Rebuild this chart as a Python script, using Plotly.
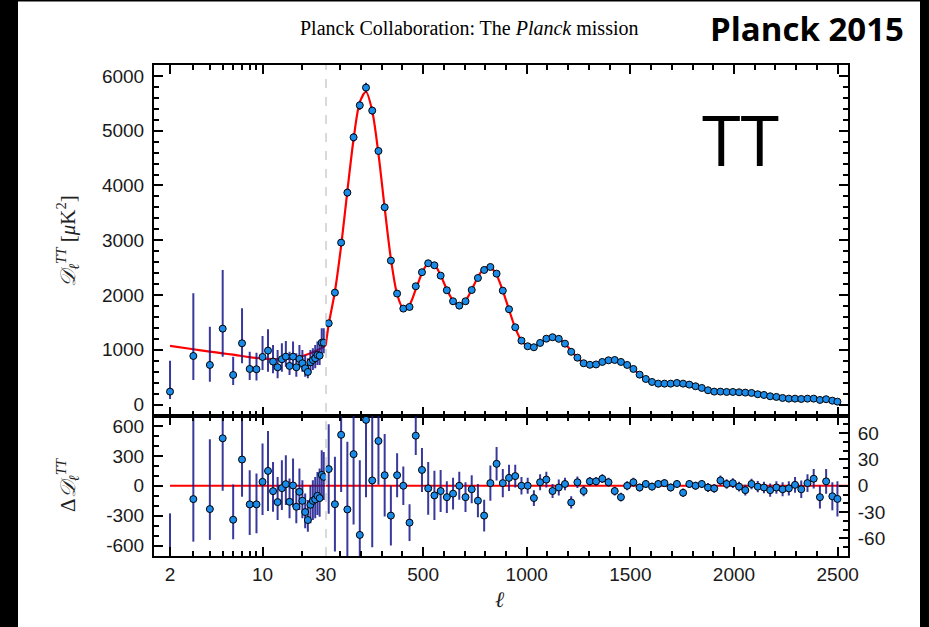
import plotly.graph_objects as go

# ---------------- data ----------------
low_ell = [2, 3, 4, 5, 6, 7, 8, 9, 10, 11, 12, 13, 14, 15, 16, 17, 18, 19, 20,
           21, 22, 23, 24, 25, 26, 27, 28, 29]
low_D = [236, 887, 723, 1386, 540, 1119, 650, 644, 869, 985, 784, 681, 827, 875,
         705, 875, 681, 833, 754, 663, 595, 772, 814, 845, 906, 893, 1130, 1130]
low_D_errp = [565, 1145, 699, 1072, 335, 639, 316, 304, 383, 390, 304, 316, 292, 286,
              261, 274, 255, 255, 243, 243, 250, 225, 214, 243, 243, 274, 263, 263]
low_D_errm = [134, 438, 305, 511, 182, 365, 201, 207, 237, 384, 213, 201, 226, 183,
              165, 183, 172, 170, 153, 154, 115, 171, 182, 182, 183, 170, 194, 194]

low_res = [-830, -134, -234, 476, -341, 263, -187, -187, 39, 149, -54, -164, -24, 16,
           -161, 3, -211, -61, -151, -264, -344, -191, -151, -137, -101, -124, 109, 89]
low_res_errp = [553, 890, 700, 600, 354, 460, 343, 310, 384, 400, 293, 253, 280, 290,
                234, 270, 184, 234, 207, 187, 200, 197, 207, 226, 240, 297, 247, 250]
low_res_errm = [300, 427, 310, 527, 196, 374, 307, 290, 333, 403, 207, 180, 220, 210,
                166, 214, 166, 183, 176, 163, 117, 186, 193, 190, 193, 187, 220, 233]

model_low_ell = [2, 3, 4, 5, 6, 7, 8, 9, 10, 12, 14, 16, 18, 20, 22, 24, 26, 28, 30]
model_low_D = [1070, 1010, 966, 935, 910, 887, 865, 850, 840, 830, 828, 840, 860, 885,
               920, 955, 995, 1035, 1075]

high_ell = [44.5, 74.5, 104.5, 134.5, 164.5, 194.5, 224.5, 254.5, 284.5, 314.5,
            344.5, 374.5, 404.5, 434.5, 464.5, 494.5, 524.5, 554.5, 584.5, 614.5,
            644.5, 674.5, 704.5, 734.5, 764.5, 794.5, 824.5, 854.5, 884.5, 914.5,
            944.5, 974.5, 1004.5, 1034.5, 1064.5, 1094.5, 1124.5, 1154.5, 1184.5, 1214.5,
            1244.5, 1274.5, 1304.5, 1334.5, 1364.5, 1394.5, 1424.5, 1454.5, 1484.5, 1514.5,
            1544.5, 1574.5, 1604.5, 1634.5, 1664.5, 1694.5, 1724.5, 1754.5, 1784.5, 1814.5,
            1844.5, 1874.5, 1904.5, 1934.5, 1964.5, 1994.5, 2024.5, 2054.5, 2084.5, 2114.5,
            2144.5, 2174.5, 2204.5, 2234.5, 2264.5, 2294.5, 2324.5, 2354.5, 2384.5, 2414.5,
            2444.5, 2474.5, 2499]
high_D = [1484, 2044, 2957, 3870, 4880, 5464, 5787, 5367, 4630, 3602,
          2628, 2026, 1752, 1782, 2160, 2416, 2580, 2543, 2354, 2087,
          1886, 1806, 1886, 2092, 2311, 2457, 2512, 2390, 2080, 1740,
          1411, 1167, 1064, 1046, 1125, 1203, 1229, 1200, 1112, 963,
          856, 754, 726, 732, 778, 808, 814, 778, 723, 650,
          546, 467, 412, 382, 382, 382, 394, 382, 364, 334,
          303, 261, 236, 236, 230, 230, 224, 218, 212, 188,
          175, 151, 139, 120, 108, 108, 102, 108, 108, 84,
          97, 71, 53]
high_res = [19, -21, 58, -27, 36, -56, 75, 6, 51, 12,
            -34, 12, 0, -42, 57, 18, -3, -11, -6, -13,
            -9, 0, -13, -4, -17, -34, 3, 25, 3, 9,
            11, 0, 0, -14, 4, 7, -6, -2, 2, -19,
            4, -6, 5, 5, 8, 4, -6, -13, 0, 4,
            -2, 2, -1, 2, 3, -2, 2, -8, 2, 0,
            2, -2, -3, 6, 2, 3, -1, -5, 2, -1,
            -2, -5, -2, -4, -3, 1, -4, 3, 8, -13,
            5, -12, -15]
high_err = [51, 54, 65, 77, 80, 85, 88, 76, 50, 47,
            34, 25, 22, 21, 22, 25, 30, 28, 24, 18,
            18, 16, 17, 16, 19, 18, 20, 19, 16, 15,
            13, 10, 9, 9, 9, 9, 8, 9, 7, 7,
            6.5, 6, 5, 5, 5, 5, 5, 5, 5, 5,
            4.5, 4.5, 4.5, 4.5, 4.5, 4.5, 4.5, 4.8, 4.5, 4.5,
            4.5, 5, 5, 5.7, 5.5, 5.5, 5.5, 6, 6, 6.5,
            6.5, 7.6, 7, 8, 8, 9, 10, 10, 11, 13,
            14, 16, 20]

model_high_ell = [30] + high_ell
model_high_D = [1075, 1465, 2065, 2899, 3897, 4844, 5520, 5712, 5361, 4579, 3590,
                2662, 2014, 1752, 1824, 2103, 2398, 2583, 2554, 2360, 2100,
                1895, 1806, 1899, 2096, 2328, 2491, 2509, 2365, 2077, 1731,
                1400, 1167, 1064, 1060, 1121, 1196, 1235, 1202, 1110, 982,
                852, 760, 721, 727, 770, 804, 820, 791, 723, 646,
                548, 465, 413, 380, 379, 384, 392, 390, 362, 334,
                301, 263, 239, 230, 228, 227, 225, 223, 210, 189,
                177, 156, 141, 124, 111, 107, 106, 105, 100, 97,
                92, 83, 68]

zero_low_ell = [2, 30]
zero_high_ell = [30, 2550]

# ---------------- styling ----------------
W, H = 929, 627
L, R, T, B = 154, 81, 65, 71
x_split = (325.7 - 154) / 694.0
y_split = (556 - 415.5) / 491.0

def px_x(p):
    return (p - L) / (W - L - R)

def px_y(p):
    return (H - B - p) / (H - T - B)

mk = dict(size=7, color="#1a8be8", line=dict(color="black", width=1))
ebc = "rgba(22,22,140,0.85)"
red = dict(color="red", width=2.2, shape="spline", smoothing=0.8)

fig = go.Figure()
fig.add_trace(go.Scatter(x=model_low_ell, y=model_low_D, xaxis="x", yaxis="y",
                         mode="lines", line=red, hoverinfo="skip"))
fig.add_trace(go.Scatter(x=low_ell, y=low_D, xaxis="x", yaxis="y", mode="markers",
                         marker=mk,
                         error_y=dict(type="data", symmetric=False, array=low_D_errp,
                                      arrayminus=low_D_errm, color=ebc, thickness=2, width=0)))
fig.add_trace(go.Scatter(x=model_high_ell, y=model_high_D, xaxis="x2", yaxis="y2",
                         mode="lines", line=red, hoverinfo="skip"))
fig.add_trace(go.Scatter(x=high_ell, y=high_D, xaxis="x2", yaxis="y2", mode="markers",
                         marker=mk,
                         error_y=dict(type="data", array=high_err, color=ebc,
                                      thickness=2, width=0)))
fig.add_trace(go.Scatter(x=zero_low_ell, y=[0, 0], xaxis="x3", yaxis="y3",
                         mode="lines", line=dict(color="red", width=2.2), hoverinfo="skip"))
fig.add_trace(go.Scatter(x=low_ell, y=low_res, xaxis="x3", yaxis="y3", mode="markers",
                         marker=mk,
                         error_y=dict(type="data", symmetric=False, array=low_res_errp,
                                      arrayminus=low_res_errm, color=ebc, thickness=2, width=0)))
fig.add_trace(go.Scatter(x=zero_high_ell, y=[0, 0], xaxis="x4", yaxis="y4",
                         mode="lines", line=dict(color="red", width=2.2), hoverinfo="skip"))
fig.add_trace(go.Scatter(x=high_ell, y=high_res, xaxis="x4", yaxis="y4", mode="markers",
                         marker=mk,
                         error_y=dict(type="data", array=high_err, color=ebc,
                                      thickness=2, width=0)))

tickfont = dict(family="Liberation Sans, Arial, sans-serif", size=19, color="#1a1a1a")
common = dict(showline=True, linecolor="black", linewidth=2, ticks="inside", ticklen=9,
              tickwidth=1.5, tickcolor="black", showgrid=False, zeroline=False,
              tickfont=tickfont)
minor_common = dict(ticks="inside", ticklen=5, tickwidth=1.5, tickcolor="black", showgrid=False)

log_range = [0.18, 1.47722]
lin_range = [30, 2550]
log_major = [2, 10, 30]
log_minor = [3, 4, 5, 6, 7, 8, 9, 20]
lin_major = [500, 1000, 1500, 2000, 2500]

fig.update_layout(
    width=W, height=H,
    margin=dict(l=L, r=R, t=T, b=B),
    paper_bgcolor="black", plot_bgcolor="white", showlegend=False,
    xaxis=dict(common, type="log", domain=[0, x_split], range=log_range, anchor="y",
               mirror="ticks", tickvals=log_major, showticklabels=False,
               minor=dict(minor_common, tickvals=log_minor)),
    xaxis2=dict(common, domain=[x_split, 1], range=lin_range, anchor="y2",
                mirror="ticks", tickvals=lin_major, showticklabels=False,
                minor=dict(minor_common, dtick=100, tick0=0)),
    xaxis3=dict(common, type="log", domain=[0, x_split], range=log_range, anchor="y3",
                mirror="ticks", tickvals=log_major, ticktext=["2", "10", "30"],
                ticklabelstandoff=0,
                minor=dict(minor_common, tickvals=log_minor)),
    xaxis4=dict(common, domain=[x_split, 1], range=lin_range, anchor="y4",
                mirror="ticks", tickvals=lin_major,
                ticktext=["500", "1000", "1500", "2000", "2500"],
                ticklabelstandoff=0,
                minor=dict(minor_common, dtick=100, tick0=0)),
    yaxis=dict(common, domain=[y_split, 1], range=[-200, 6200], anchor="x",
               tickvals=[0, 1000, 2000, 3000, 4000, 5000, 6000],
               ticktext=["0", "1000", "2000", "3000", "4000", "5000", "6000"],
               ticklabelstandoff=4,
               minor=dict(minor_common, dtick=200, tick0=0)),
    yaxis2=dict(common, domain=[y_split, 1], range=[-200, 6200], anchor="x2", side="right",
                tickvals=[0, 1000, 2000, 3000, 4000, 5000, 6000], showticklabels=False,
                minor=dict(minor_common, dtick=200, tick0=0)),
    yaxis3=dict(common, domain=[0, y_split], range=[-705, 705], anchor="x3",
                tickvals=[-600, -300, 0, 300, 600],
                ticktext=["-600", "-300", "0", "300", "600"],
                ticklabelstandoff=4,
                minor=dict(minor_common, dtick=100, tick0=0)),
    yaxis4=dict(common, domain=[0, y_split], range=[-80, 80], anchor="x4", side="right",
                tickvals=[-60, -30, 0, 30, 60],
                ticktext=["-60", "-30", "0", "30", "60"],
                ticklabelstandoff=4,
                minor=dict(minor_common, dtick=10, tick0=0)),
)

fig.add_shape(type="rect", xref="paper", yref="paper", layer="below",
              x0=px_x(18), x1=px_x(920), y0=px_y(640), y1=px_y(1.5),
              fillcolor="white", line=dict(width=0))
fig.add_shape(type="line", xref="x2", yref="paper", x0=30, x1=30, y0=0, y1=1,
              line=dict(color="#7a7a7a", width=1.2, dash="dash"))

serif = "Liberation Serif, DejaVu Serif, serif"

def note(px, py, text, font, angle=0):
    fig.add_annotation(x=px_x(px), y=px_y(py), xref="paper", yref="paper",
                       xanchor="center", yanchor="middle", showarrow=False,
                       textangle=angle, text=text, font=font)

note(469, 28, "Planck Collaboration: The <i>Planck</i> mission",
     dict(family=serif, size=20, color="black"))
note(807, 29, "<b>Planck 2015</b>", dict(family="Open Sans, sans-serif", size=33, color="black"))
note(740, 139, "TT", dict(family="Open Sans, sans-serif", size=70, color="black"))
note(67, 241, "<i>𝒟</i><sub><i>ℓ</i></sub><sup><i>TT</i></sup> [<i>μ</i>K<sup>2</sup>]",
     dict(family=serif, size=21, color="#222"), angle=-90)
note(67, 485, "Δ<i>𝒟</i><sub><i>ℓ</i></sub><sup><i>TT</i></sup>",
     dict(family=serif, size=21, color="#222"), angle=-90)
note(500, 599, "<i>ℓ</i>", dict(family=serif, size=22, color="#222"))

fig.write_html("out.html")
